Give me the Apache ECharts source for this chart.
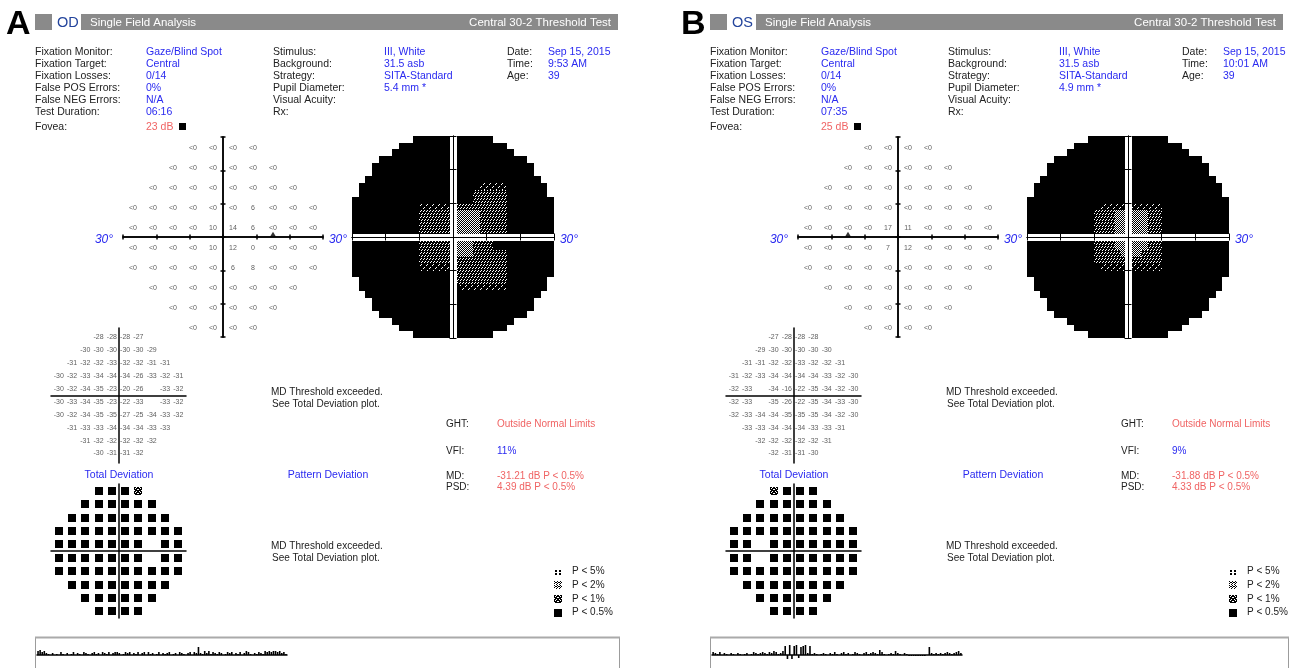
<!DOCTYPE html>
<html>
<head>
<meta charset="utf-8">
<script src="https://cdn.jsdelivr.net/npm/echarts@6/dist/echarts.min.js"></script>
<style>
html, body { margin: 0; padding: 0; background: #fff; }
#main { width: 1291px; height: 668px; }
</style>
</head>
<body>
<div id="main"></div>
<script>
// ---------- data ----------
// rows of the 30-2 pattern, top (27 deg) to bottom (-27 deg)
const rowY = [27, 21, 15, 9, 3, -3, -9, -15, -21, -27];

const thresholdA = [
  ['<0', '<0', '<0', '<0'],
  ['<0', '<0', '<0', '<0', '<0', '<0'],
  ['<0', '<0', '<0', '<0', '<0', '<0', '<0', '<0'],
  ['<0', '<0', '<0', '<0', '<0', '<0', '6', '<0', '<0', '<0'],
  ['<0', '<0', '<0', '<0', '10', '14', '6', '<0', '<0', '<0'],
  ['<0', '<0', '<0', '<0', '10', '12', '0', '<0', '<0', '<0'],
  ['<0', '<0', '<0', '<0', '<0', '6', '8', '<0', '<0', '<0'],
  ['<0', '<0', '<0', '<0', '<0', '<0', '<0', '<0'],
  ['<0', '<0', '<0', '<0', '<0', '<0'],
  ['<0', '<0', '<0', '<0']
];
const thresholdB = [
  ['<0', '<0', '<0', '<0'],
  ['<0', '<0', '<0', '<0', '<0', '<0'],
  ['<0', '<0', '<0', '<0', '<0', '<0', '<0', '<0'],
  ['<0', '<0', '<0', '<0', '<0', '<0', '<0', '<0', '<0', '<0'],
  ['<0', '<0', '<0', '<0', '17', '11', '<0', '<0', '<0', '<0'],
  ['<0', '<0', '<0', '<0', '7', '12', '<0', '<0', '<0', '<0'],
  ['<0', '<0', '<0', '<0', '<0', '<0', '<0', '<0', '<0', '<0'],
  ['<0', '<0', '<0', '<0', '<0', '<0', '<0', '<0'],
  ['<0', '<0', '<0', '<0', '<0', '<0'],
  ['<0', '<0', '<0', '<0']
];

const totalDevA = [
  [-28, -28, -28, -27],
  [-30, -30, -30, -30, -30, -29],
  [-31, -32, -32, -33, -32, -32, -31, -31],
  [-30, -32, -33, -34, -34, -34, -26, -33, -32, -31],
  [-30, -32, -34, -35, -23, -20, -26, null, -33, -32],
  [-30, -33, -34, -35, -23, -22, -33, null, -33, -32],
  [-30, -32, -34, -35, -35, -27, -25, -34, -33, -32],
  [-31, -33, -33, -34, -34, -34, -33, -33],
  [-31, -32, -32, -32, -32, -32],
  [-30, -31, -31, -32]
];
const totalDevB = [
  [-27, -28, -28, -28],
  [-29, -30, -30, -30, -30, -30],
  [-31, -31, -32, -32, -33, -32, -32, -31],
  [-31, -32, -33, -34, -34, -34, -34, -33, -32, -30],
  [-32, -33, null, -34, -16, -22, -35, -34, -32, -30],
  [-32, -33, null, -35, -26, -22, -35, -34, -33, -30],
  [-32, -33, -34, -34, -35, -35, -35, -34, -32, -30],
  [-33, -33, -34, -34, -34, -33, -33, -31],
  [-32, -32, -32, -32, -32, -31],
  [-32, -31, -31, -30]
];

// probability symbols: 4 = P<0.5%, 3 = P<1%, 2 = P<2%, 1 = P<5%, 0 = none
const totalProbA = [
  [4, 4, 4, 3],
  [4, 4, 4, 4, 4, 4],
  [4, 4, 4, 4, 4, 4, 4, 4],
  [4, 4, 4, 4, 4, 4, 4, 4, 4, 4],
  [4, 4, 4, 4, 4, 4, 4, 0, 4, 4],
  [4, 4, 4, 4, 4, 4, 4, 0, 4, 4],
  [4, 4, 4, 4, 4, 4, 4, 4, 4, 4],
  [4, 4, 4, 4, 4, 4, 4, 4],
  [4, 4, 4, 4, 4, 4],
  [4, 4, 4, 4]
];
const totalProbB = [
  [3, 4, 4, 4],
  [4, 4, 4, 4, 4, 4],
  [4, 4, 4, 4, 4, 4, 4, 4],
  [4, 4, 4, 4, 4, 4, 4, 4, 4, 4],
  [4, 4, 0, 4, 4, 4, 4, 4, 4, 4],
  [4, 4, 0, 4, 4, 4, 4, 4, 4, 4],
  [4, 4, 4, 4, 4, 4, 4, 4, 4, 4],
  [4, 4, 4, 4, 4, 4, 4, 4],
  [4, 4, 4, 4, 4, 4],
  [4, 4, 4, 4]
];

// grayscale, 2-degree cells, ' ' outside field, '.' black, 1-3 lighter tones
const grayA = [
  '         ............         ',
  '       ................       ',
  '      ..................      ',
  '    ......................    ',
  '   ........................   ',
  '   ........................   ',
  '  ..........................  ',
  ' ..................1111...... ',
  ' .................22222...... ',
  '..................22222.......',
  '..........1111122222222.......',
  '..........2222233332222.......',
  '..........2222233332222.......',
  '..........2222233332222.......',
  '..........2222233332222.......',
  '..........22222333222.........',
  '..........22222333222.........',
  '..........2222233322222.......',
  '..........2222222222222.......',
  '..........1111122222222.......',
  '...............22222222.......',
  ' ..............22222222...... ',
  ' ...............1111111...... ',
  '  ..........................  ',
  '   ........................   ',
  '   ........................   ',
  '    ......................    ',
  '      ..................      ',
  '       ................       ',
  '         ............         '
];
const grayB = [
  '         ............         ',
  '       ................       ',
  '      ..................      ',
  '    ......................    ',
  '   ........................   ',
  '   ........................   ',
  '  ..........................  ',
  ' ............................ ',
  ' ............................ ',
  '..............................',
  '...........111111111..........',
  '..........2223333322..........',
  '..........2223333322..........',
  '..........2223333322..........',
  '..........2223333322..........',
  '..........2223333322..........',
  '..........2223333322..........',
  '..........2222333222..........',
  '..........2222222222..........',
  '...........111111111..........',
  '..............................',
  ' ............................ ',
  ' ............................ ',
  '  ..........................  ',
  '   ........................   ',
  '   ........................   ',
  '    ......................    ',
  '      ..................      ',
  '       ................       ',
  '         ............         '
];

const blindSpotA = [15, 0.8];
const blindSpotB = [-15, 0.8];

// gaze tracking (deflection per sample)
const gazeA = [4, 5, 3, 4, 2, 1, 0, 2, 0, 1, 0, 3, 1, 0, 2, 0, 1, 3, 0, 2, 1, 0, 3, 2, 1, 0, 2, 3, 1, 2,
  0, 3, 2, 1, 3, 0, 2, 3, 3, 2, 0, 1, 3, 2, 3, 0, 2, 1, 3, 0, 2, 3, 0, 3, 1, 2, 0, 1, 3, 0,
  2, 1, 2, 3, 0, 1, 2, 0, 3, 2, 1, 0, 2, 3, 0, 3, 2, 8, 2, 1, 4, 2, 4, 1, 3, 2, 1, 3, 2, 0,
  1, 3, 2, 3, 0, 2, 1, 3, 0, 2, 4, 3, 1, 0, 2, 1, 3, 2, 1, 4, 3, 4, 3, 4, 4, 3, 4, 2, 3, 1];
const gazeB = [3, 2, 1, 3, 0, 2, 1, 0, 2, 1, 0, 2, 1, 0, 1, 2, 0, 1, 3, 2, 1, 2, 3, 2, 1, 3, 2, 4, 3, 1,
  2, 4, 9, -4, 10, -4, 9, 10, -3, 8, 9, 10, 2, 9, 1, 2, 1, 0, 1, 2, 1, 0, 2, 1, 3, 1, 0, 2, 3, 1,
  2, 0, 1, 3, 2, 1, 0, 2, 3, 1, 2, 3, 2, 1, 5, 3, 1, 0, 1, 2, 1, 4, 2, 1, 0, 2, 1, -1, -1, -1,
  -1, -1, -1, -1, -1, 0, 8, 2, 1, 2, 1, 2, 1, 2, 3, 2, 1, 2, 3, 4, 2];

const infoLabels = ['Fixation Monitor:', 'Fixation Target:', 'Fixation Losses:', 'False POS Errors:', 'False NEG Errors:', 'Test Duration:'];
const infoValuesA = ['Gaze/Blind Spot', 'Central', '0/14', '0%', 'N/A', '06:16'];
const infoValuesB = ['Gaze/Blind Spot', 'Central', '0/14', '0%', 'N/A', '07:35'];
const stimLabels = ['Stimulus:', 'Background:', 'Strategy:', 'Pupil Diameter:', 'Visual Acuity:', 'Rx:'];
const stimValuesA = ['III, White', '31.5 asb', 'SITA-Standard', '5.4 mm *'];
const stimValuesB = ['III, White', '31.5 asb', 'SITA-Standard', '4.9 mm *'];
const dateLabels = ['Date:', 'Time:', 'Age:'];
const dateValuesA = ['Sep 15, 2015', '9:53 AM', '39'];
const dateValuesB = ['Sep 15, 2015', '10:01 AM', '39'];
const foveaA = '23 dB';
const foveaB = '25 dB';
const statLabels = ['GHT:', 'VFI:', 'MD:', 'PSD:'];
const statValuesA = ['Outside Normal Limits', '11%', '-31.21 dB P < 0.5%', '4.39 dB P < 0.5%'];
const statValuesB = ['Outside Normal Limits', '9%', '-31.88 dB P < 0.5%', '4.33 dB P < 0.5%'];
const legendLabels = ['P < 5%', 'P < 2%', 'P < 1%', 'P < 0.5%'];
const legendLevels = [1, 2, 3, 4];

// ---------- drawing ----------
const FONT = '"Liberation Sans", Arial, sans-serif';
const BLUE = '#2a2af0';
const RED = '#f06464';

const grid = [], xAxis = [], yAxis = [], series = [], graphic = [];

function txt(x, y, s, o) {
  o = o || {};
  const al = o.align || 'left';
  graphic.push({
    type: 'text', x: x, y: y, silent: true, z: 20,
    style: {
      text: s, fill: o.color || '#222',
      font: (o.italic ? 'italic ' : '') + (o.bold ? 'bold ' : '') + (o.size || 10.5) + 'px ' + FONT,
      align: al, textAlign: al, verticalAlign: 'middle', textVerticalAlign: 'middle'
    }
  });
}
function box(x, y, w, h, fill) {
  graphic.push({ type: 'rect', silent: true, z: 15, shape: { x: x, y: y, width: w, height: h }, style: { fill: fill } });
}

function addGrid(left, top, width, height) {
  grid.push({ left: left, top: top, width: width, height: height, containLabel: false, outerBoundsMode: 'none' });
  return grid.length - 1;
}
function makeAxis(gi, r, pos, s) {
  const a = {
    type: 'value', gridIndex: gi, min: r[0], max: r[1], position: pos, z: s.z || 3,
    axisLine: { show: s.width > 0, onZero: true, lineStyle: { color: s.color, width: s.width } },
    axisTick: { show: !!s.tick, inside: true, length: s.tick || 0, lineStyle: { color: '#000', width: s.tickWidth || 1 } },
    axisLabel: { show: false }, splitLine: { show: false }
  };
  if (s.tick) a.interval = 10;
  return a;
}
// equal numbers of x and y axes, so each one can sit on the other's zero
function addAxes(gi, xr, yr, specs) {
  const first = { x: xAxis.length, y: yAxis.length };
  specs.forEach(function (s, k) {
    xAxis.push(makeAxis(gi, xr, k % 2 ? 'top' : 'bottom', s));
    yAxis.push(makeAxis(gi, yr, k % 2 ? 'right' : 'left', s));
  });
  return first;
}

function fieldPoints(rows) {
  const out = [];
  rows.forEach(function (row, r) {
    const n = row.length;
    row.forEach(function (v, i) { out.push([-3 * (n - 1) + 6 * i, rowY[r], v]); });
  });
  return out;
}
function grayCells(bitmap) {
  const out = [];
  bitmap.forEach(function (row, r) {
    for (let c = 0; c < row.length; c++) {
      const ch = row[c];
      if (ch === ' ') continue;
      out.push([-29 + 2 * c, 29 - 2 * r, ch === '.' ? 0 : Number(ch)]);
    }
  });
  return out;
}

const toneTex = {
  1: ['.W....', 'W.....', '......', '....W.', '...W..', '......'],
  2: ['.W..W.', 'W..W..', '......', '..W..W', '.W..W.', '......'],
  3: ['W.W.', '.W.W', 'W.W.', '.W.W']
};
function renderGray(params, api) {
  const cx = api.value(0), cy = api.value(1), tone = api.value(2);
  const a = api.coord([cx - 1, cy + 1]), b = api.coord([cx + 1, cy - 1]);
  const x = Math.round(a[0]), y = Math.round(a[1]);
  const w = Math.round(b[0]) - x, h = Math.round(b[1]) - y;
  const kids = [{ type: 'rect', shape: { x: x, y: y, width: w, height: h }, style: { fill: '#000' } }];
  const tex = toneTex[tone];
  if (tex) {
    const n = tex.length;
    for (let j = 0; j < h; j++) {
      for (let i = 0; i < w; i++) {
        if (tex[(y + j) % n][(x + i) % n] === 'W') {
          kids.push({ type: 'rect', shape: { x: x + i, y: y + j, width: 1, height: 1 }, style: { fill: '#fff' } });
        }
      }
    }
  }
  return { type: 'group', children: kids };
}

const probBitmaps = {
  1: ['........', '........', '.XX..XX.', '.XX..XX.', '........', '.XX..XX.', '.XX..XX.', '........'],
  2: ['X..X..X.', '.XX.XX.X', 'X..X..X.', '..X..X..', 'X..X..X.', '.XX.XX.X', 'X..X..X.', '..X..X..'],
  3: ['XX.XX.XX', 'X.XXXX.X', 'XXX..XXX', '.XXXXXX.', 'XX.XX.XX', 'X.XXXX.X', 'XXX..XXX', '.XXXXXX.']
};
function probSymbol(level, cx, cy) {
  const s = 8, x0 = Math.round(cx - s / 2), y0 = Math.round(cy - s / 2);
  if (level === 4) return [{ type: 'rect', shape: { x: x0, y: y0, width: s, height: s }, style: { fill: '#000' } }];
  const bm = probBitmaps[level], out = [];
  for (let j = 0; j < s; j++) {
    for (let i = 0; i < s; i++) {
      if (bm[j][i] === 'X') out.push({ type: 'rect', shape: { x: x0 + i, y: y0 + j, width: 1, height: 1 }, style: { fill: '#000' } });
    }
  }
  return out;
}
function renderProb(params, api) {
  const p = api.coord([api.value(0), api.value(1)]);
  return { type: 'group', children: probSymbol(api.value(2), p[0], p[1]) };
}

const panels = [
  { ox: 0, barW: 537, letter: 'A', eye: 'OD', thr: thresholdA, gray: grayA, td: totalDevA, tp: totalProbA, blind: blindSpotA,
    info: infoValuesA, stim: stimValuesA, date: dateValuesA, fovea: foveaA, stats: statValuesA, gaze: gazeA, boxW: 584 },
  { ox: 675, barW: 527, letter: 'B', eye: 'OS', thr: thresholdB, gray: grayB, td: totalDevB, tp: totalProbB, blind: blindSpotB,
    info: infoValuesB, stim: stimValuesB, date: dateValuesB, fovea: foveaB, stats: statValuesB, gaze: gazeB, boxW: 578 }
];

panels.forEach(function (P) {
  const ox = P.ox;

  // header
  txt(ox + 6, 25, P.letter, { size: 34, bold: true, color: '#000' });
  box(ox + 35, 14, 17, 16, '#8a8a8a');
  txt(ox + 57, 22.5, P.eye, { size: 14.5, color: '#23449c' });
  box(ox + 81, 14, P.barW, 16, '#8a8a8a');
  txt(ox + 90, 22.5, 'Single Field Analysis', { size: 11.5, color: '#fff' });
  txt(ox + 74 + P.barW, 22.5, 'Central 30-2 Threshold Test', { size: 11.5, color: '#fff', align: 'right' });

  // test parameters
  infoLabels.forEach(function (s, i) { txt(ox + 35, 52 + 12 * i, s); });
  P.info.forEach(function (s, i) { txt(ox + 146, 52 + 12 * i, s, { color: BLUE }); });
  stimLabels.forEach(function (s, i) { txt(ox + 273, 52 + 12 * i, s); });
  P.stim.forEach(function (s, i) { txt(ox + 384, 52 + 12 * i, s, { color: BLUE }); });
  dateLabels.forEach(function (s, i) { txt(ox + 507, 52 + 12 * i, s); });
  P.date.forEach(function (s, i) { txt(ox + 548, 52 + 12 * i, s, { color: BLUE }); });
  txt(ox + 35, 127, 'Fovea:');
  txt(ox + 146, 127, P.fovea, { color: RED });
  box(ox + 179, 123, 7, 7, '#000');

  // threshold values plot
  const g1 = addGrid(ox + 123, 137, 200, 200);
  const a1 = addAxes(g1, [-30, 30], [-30, 30], [
    { color: '#000', width: 1.5, tick: 2.5, tickWidth: 1.5 },
    { color: '#000', width: 1.5, tick: 2.5, tickWidth: 1.5 }
  ]);
  series.push({
    type: 'scatter', xAxisIndex: a1.x, yAxisIndex: a1.y, silent: true, symbolSize: 1,
    itemStyle: { color: 'rgba(0,0,0,0)' },
    label: { show: true, position: 'inside', offset: [0, 1], fontSize: 7, fontFamily: FONT, color: '#333',
      formatter: function (p) { return p.name; } },
    data: fieldPoints(P.thr).map(function (p) { return { name: p[2], value: [p[0], p[1]] }; })
  });
  series.push({
    type: 'scatter', xAxisIndex: a1.x, yAxisIndex: a1.y, silent: true, symbol: 'triangle',
    symbolSize: [6, 5], itemStyle: { color: '#000' }, z: 5, data: [P.blind]
  });
  txt(ox + 104, 240, '30°', { size: 12, italic: true, color: BLUE, align: 'center' });
  txt(ox + 338, 240, '30°', { size: 12, italic: true, color: BLUE, align: 'center' });
  txt(ox + 569, 240, '30°', { size: 12, italic: true, color: BLUE, align: 'center' });

  // grayscale
  const g2 = addGrid(ox + 352, 136, 202, 202);
  const a2 = addAxes(g2, [-30, 30], [-30, 30], [
    { color: '#fff', width: 7, z: 5 },
    { color: '#000', width: 1, tick: 3.5, z: 6 },
    { color: '#000', width: 1, tick: 3.5, z: 6 }
  ]);
  series.push({
    type: 'custom', xAxisIndex: a2.x, yAxisIndex: a2.y, silent: true,
    renderItem: renderGray, data: grayCells(P.gray)
  });

  // total deviation values
  const g3 = addGrid(ox + 51, 328, 135, 135);
  const a3 = addAxes(g3, [-30.5, 30.5], [-31.4, 31.4], [{ color: '#000', width: 1.5 }]);
  series.push({
    type: 'scatter', xAxisIndex: a3.x, yAxisIndex: a3.y, silent: true, symbolSize: 1,
    itemStyle: { color: 'rgba(0,0,0,0)' },
    label: { show: true, position: 'inside', fontSize: 7, fontFamily: FONT, color: '#333',
      formatter: function (p) { return p.name; } },
    data: fieldPoints(P.td).filter(function (p) { return p[2] !== null; })
      .map(function (p) { return { name: String(p[2]), value: [p[0], p[1]] }; })
  });

  // total deviation probability plot
  const g4 = addGrid(ox + 51, 484, 135, 134);
  const a4 = addAxes(g4, [-30.5, 30.5], [-30, 30], [{ color: '#000', width: 1.5 }]);
  series.push({
    type: 'custom', xAxisIndex: a4.x, yAxisIndex: a4.y, silent: true, renderItem: renderProb,
    data: fieldPoints(P.tp).filter(function (p) { return p[2] > 0; })
  });

  txt(ox + 119, 475, 'Total Deviation', { color: BLUE, align: 'center' });
  txt(ox + 328, 475, 'Pattern Deviation', { color: BLUE, align: 'center' });
  txt(ox + 271, 392, 'MD Threshold exceeded.', { size: 10 });
  txt(ox + 272, 404.5, 'See Total Deviation plot.', { size: 10 });
  txt(ox + 271, 546, 'MD Threshold exceeded.', { size: 10 });
  txt(ox + 272, 558.5, 'See Total Deviation plot.', { size: 10 });

  // global indices
  const statY = [424, 451, 476, 487.5];
  const statColors = [RED, BLUE, RED, RED];
  statLabels.forEach(function (s, i) { txt(ox + 446, statY[i], s, { size: 10 }); });
  P.stats.forEach(function (s, i) { txt(ox + 497, statY[i], s, { size: 10, color: statColors[i] }); });

  // legend
  legendLabels.forEach(function (s, i) {
    const yy = 571.5 + 13.7 * i;
    graphic.push({ type: 'group', silent: true, z: 15, children: probSymbol(legendLevels[i], ox + 557.5, yy) });
    txt(ox + 572, yy, s, { size: 10 });
  });

  // gaze tracking
  graphic.push({ type: 'rect', silent: true, z: 1, shape: { x: ox + 35.5, y: 637.5, width: P.boxW, height: 60 },
    style: { fill: 'none', stroke: '#9c9c9c', lineWidth: 1 } });
  box(ox + 35, 636.5, P.boxW + 1, 2, '#aaaaaa');
  const g5 = addGrid(ox + 37, 643, 250, 18);
  xAxis.push({ type: 'category', gridIndex: g5, data: P.gaze.map(function (v, i) { return i; }),
    axisLine: { show: true, onZero: true, lineStyle: { color: '#000', width: 1.5 } },
    axisTick: { show: false }, axisLabel: { show: false }, splitLine: { show: false } });
  yAxis.push({ type: 'value', gridIndex: g5, min: -6, max: 12,
    axisLine: { show: false, onZero: false }, axisTick: { show: false }, axisLabel: { show: false }, splitLine: { show: false } });
  series.push({ type: 'bar', xAxisIndex: xAxis.length - 1, yAxisIndex: yAxis.length - 1, silent: true,
    barWidth: 1.6, itemStyle: { color: '#000' }, data: P.gaze });
});

const chart = echarts.init(document.getElementById('main'), null, { renderer: 'canvas' });
chart.setOption({
  animation: false,
  grid: grid,
  xAxis: xAxis,
  yAxis: yAxis,
  series: series,
  graphic: { elements: graphic }
});
</script>
</body>
</html>
